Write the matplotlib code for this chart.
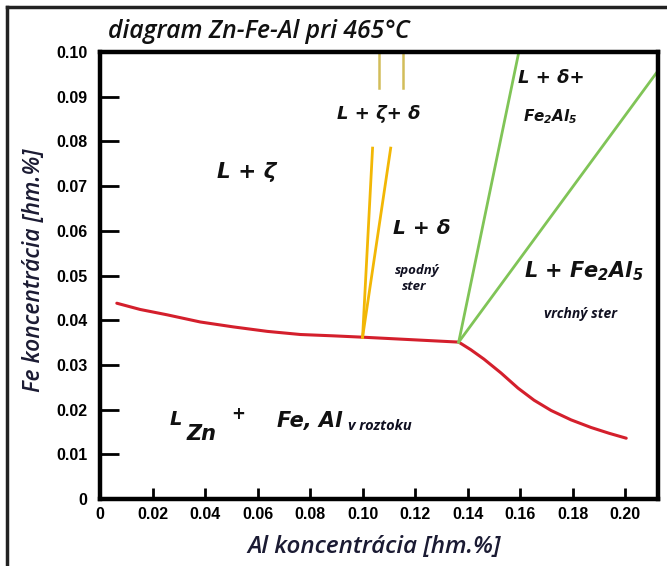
import numpy as np
import matplotlib.pyplot as plt
from matplotlib.lines import Line2D

# Hranica L / L + zlúčeniny (červená krivka)
red_al = [0.0064, 0.0153, 0.0256, 0.0382, 0.0508, 0.0637, 0.0763, 0.0889, 0.1000,
          0.1366, 0.1412, 0.1462, 0.1527, 0.1592, 0.1653, 0.1718, 0.1794, 0.1870, 0.1939, 0.2004]
red_fe = [0.0438, 0.0424, 0.0412, 0.0396, 0.0385, 0.0375, 0.0368, 0.0365, 0.0362,
          0.0351, 0.0334, 0.0313, 0.0282, 0.0248, 0.0221, 0.0198, 0.0177, 0.0160, 0.0147, 0.0136]

# Konódy L + zeta / delta (oranžové)
zeta_left_al = [0.1000, 0.1038]
zeta_left_fe = [0.0362, 0.0785]
zeta_right_al = [0.1000, 0.1107]
zeta_right_fe = [0.0362, 0.0785]
zeta_top_al = [0.1062, 0.1155]
zeta_top_fe = [0.0919, 0.1000]

# Konódy L + delta / Fe2Al5 (zelené)
green1_al = [0.1366, 0.1595]
green1_fe = [0.0351, 0.1000]
green2_al = [0.1366, 0.2125]
green2_fe = [0.0351, 0.0958]

x_ticks = [0, 0.02, 0.04, 0.06, 0.08, 0.10, 0.12, 0.14, 0.16, 0.18, 0.20]
x_labels = ['0', '0.02', '0.04', '0.06', '0.08', '0.10', '0.12', '0.14', '0.16', '0.18', '0.20']
y_ticks = [0, 0.01, 0.02, 0.03, 0.04, 0.05, 0.06, 0.07, 0.08, 0.09, 0.10]
y_labels = ['0', '0.01', '0.02', '0.03', '0.04', '0.05', '0.06', '0.07', '0.08', '0.09', '0.10']

plt.rcParams['mathtext.fontset'] = 'custom'
plt.rcParams['mathtext.rm'] = 'DejaVu Sans:italic:bold'
plt.rcParams['mathtext.it'] = 'DejaVu Sans:italic:bold'
plt.rcParams['mathtext.bf'] = 'DejaVu Sans:italic:bold'

W, H = 667, 566
fig = plt.figure(figsize=(W / 100, H / 100), dpi=100)
ax = fig.add_axes([100 / W, (H - 499) / H, (658 - 100) / W, (499 - 52) / H])

# čiary
ax.plot(red_al, red_fe, color='#d41f2c', lw=2.2, solid_capstyle='round', solid_joinstyle='round')
ax.plot(zeta_left_al, zeta_left_fe, color='#f2b705', lw=2.0)
ax.plot(zeta_right_al, zeta_right_fe, color='#f2b705', lw=2.0)
for x in zeta_top_al:
    ax.plot([x, x], zeta_top_fe, color='#d2bd5a', lw=1.8)
ax.plot(green1_al, green1_fe, color='#80c457', lw=2.0)
ax.plot(green2_al, green2_fe, color='#80c457', lw=2.0)

ax.set_xlim(0, 0.2125)
ax.set_ylim(0, 0.10)

# osi
for s in ax.spines.values():
    s.set_linewidth(3.2)
    s.set_color('black')
ax.set_xticks(x_ticks)
ax.set_xticklabels(x_labels)
ax.set_yticks(y_ticks)
ax.set_yticklabels(y_labels)
tick_font = dict(family='Liberation Sans', weight='bold', size=11.5)
for lab in ax.get_xticklabels() + ax.get_yticklabels():
    lab.set_fontproperties(tick_font)
ax.tick_params(axis='x', direction='in', length=8, width=2, pad=6)
ax.tick_params(axis='y', direction='in', length=14, width=2, pad=9)
ax.xaxis.get_major_ticks()[0].tick1line.set_visible(False)
ax.yaxis.get_major_ticks()[0].tick1line.set_visible(False)
ax.yaxis.get_major_ticks()[-1].tick1line.set_visible(False)

ax.set_xlabel('Al koncentrácia [hm.%]', fontfamily='Open Sans', fontstyle='italic',
              fontweight='semibold', fontsize=17.5, color='#1b1b33')
ax.xaxis.set_label_coords((374 - 100) / 558, -(535 - 499) / 447)
ax.set_ylabel('Fe koncentrácia [hm.%]', fontfamily='Open Sans', fontstyle='italic',
              fontweight='semibold', fontsize=16.5, color='#1b1b33')
ax.yaxis.set_label_coords(-(100 - 46) / 558, (499 - 270) / 447)

fig.text(108 / W, 1 - 31 / H, 'diagram Zn-Fe-Al pri 465°C', fontfamily='Open Sans',
         fontstyle='italic', fontweight='semibold', fontsize=17.8, color='#111111',
         va='center', ha='left')

# popisy fáz
big = dict(family='DejaVu Sans', style='oblique', weight='bold', color='#111111')
small = dict(family='Open Sans', style='italic', weight='bold', color='#111122')
ax.text(0.0557, 0.0732, 'L + ζ', fontsize=15.5, ha='center', va='center', **big)
ax.text(0.1061, 0.0861, 'L + ζ+ δ', fontsize=13, ha='center', va='center', **big)
ax.text(0.1225, 0.0606, 'L + δ', fontsize=14.5, ha='center', va='center', **big)
ax.text(0.1206, 0.0512, 'spodný', fontsize=9.5, ha='center', va='center', **small)
ax.text(0.1198, 0.0476, 'ster', fontsize=9.5, ha='center', va='center', **small)
ax.text(0.1590, 0.0942, 'L + δ+', fontsize=13, ha='left', va='center', **big)
ax.text(0.1612, 0.0856, r'Fe$_2$Al$_5$', fontsize=11, ha='left', va='center', **big)
ax.text(0.1844, 0.0510, r'L + Fe$_2$Al$_5$', fontsize=15, ha='center', va='center', **big)
ax.text(0.1832, 0.0414, 'vrchný ster', fontsize=10, ha='center', va='center', **small)
ax.text(0.0265, 0.0177, 'L', fontsize=14, ha='left', va='center', **big)
ax.text(0.0330, 0.0145, 'Zn', fontsize=15, ha='left', va='center', **big)
ax.text(0.0525, 0.0190, '+', fontsize=12, ha='center', va='center', **big)
ax.text(0.0675, 0.0175, 'Fe, Al', fontsize=15, ha='left', va='center', **big)
ax.text(0.0945, 0.0163, 'v roztoku', fontsize=10.5, ha='left', va='center', **small)

# rámik okolo obrázka
fig.add_artist(Line2D([7 / W, 1], [1 - 7 / H, 1 - 7 / H], color='#222222', lw=2.5))
fig.add_artist(Line2D([7 / W, 7 / W], [0, 1 - 7 / H], color='#222222', lw=2.5))

fig.savefig('out.png', dpi=100)
